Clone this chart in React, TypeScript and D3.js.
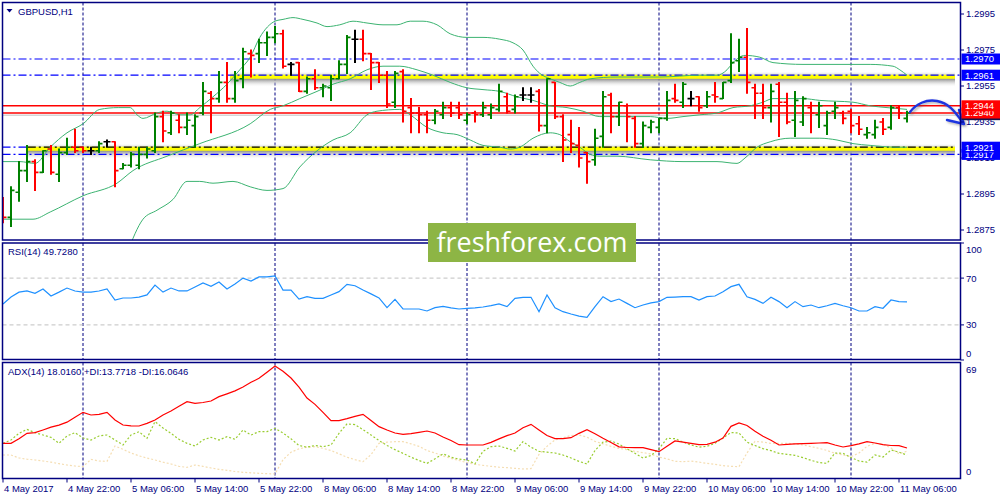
import React from "react";
import * as d3 from "d3";

// ---------- DATA (GBPUSD H1, 4 May 14:00 .. 11 May 07:00) ----------
const openP = [
  1.2892, 1.2882, 1.2896, 1.2908, 1.2913, 1.2907, 1.292, 1.2906, 1.2918, 1.2921,
  1.2921, 1.2919, 1.2919, 1.2924, 1.2924, 1.2909, 1.2911, 1.2911, 1.2917, 1.2919,
  1.2938, 1.2929, 1.2936, 1.2932, 1.2933, 1.294, 1.2951, 1.2948, 1.2957, 1.2948,
  1.2959, 1.2973, 1.2973, 1.2979, 1.2982, 1.2984, 1.2967, 1.2968, 1.2952, 1.2959,
  1.2954, 1.2954, 1.2959, 1.2967, 1.2981, 1.2981, 1.2973, 1.2968, 1.2961, 1.2946,
  1.2963, 1.2943, 1.294, 1.2939, 1.2936, 1.2939, 1.2943, 1.2943, 1.2936, 1.294,
  1.2939, 1.2939, 1.2942, 1.2949, 1.2942, 1.295, 1.295, 1.2952, 1.2933, 1.2957,
  1.2938, 1.2928, 1.2922, 1.2918, 1.2914, 1.2927, 1.295, 1.2938, 1.2944, 1.2937,
  1.2923, 1.2932, 1.2932, 1.2937, 1.2948, 1.2946, 1.2948, 1.2949, 1.2944, 1.295,
  1.2948, 1.2958, 1.2969, 1.2971, 1.2954, 1.2951, 1.2943, 1.2956, 1.2946, 1.2936,
  1.2935, 1.2943, 1.2939, 1.2933, 1.2941, 1.294, 1.2941, 1.2934, 1.2928, 1.2928,
  1.2935, 1.2932, 1.2943, 1.2937,
];
const highP = [
  1.2893, 1.2899, 1.2913, 1.2922, 1.2914, 1.2919, 1.2922, 1.292, 1.2926, 1.2931,
  1.2921, 1.2921, 1.2924, 1.2925, 1.2924, 1.2912, 1.2918, 1.2921, 1.2921, 1.294,
  1.2941, 1.2941, 1.2939, 1.294, 1.2939, 1.2957, 1.2952, 1.2963, 1.2968, 1.2963,
  1.2976, 1.2975, 1.2981, 1.2985, 1.2988, 1.2986, 1.2968, 1.2968, 1.296, 1.2964,
  1.2956, 1.2961, 1.2969, 1.2983, 1.2986, 1.2986, 1.2973, 1.2968, 1.2963, 1.2963,
  1.2964, 1.2948, 1.2943, 1.2941, 1.2942, 1.2946, 1.2946, 1.2946, 1.294, 1.2941,
  1.2946, 1.2945, 1.2956, 1.2951, 1.295, 1.2954, 1.2954, 1.2953, 1.2959, 1.2957,
  1.2939, 1.2936, 1.2932, 1.2918, 1.2931, 1.2952, 1.2951, 1.2946, 1.2945, 1.2938,
  1.2935, 1.2936, 1.2937, 1.2952, 1.2956, 1.2957, 1.2952, 1.2949, 1.2952, 1.2957,
  1.2957, 1.2984, 1.2981, 1.2987, 1.2956, 1.2956, 1.2956, 1.2957, 1.2951, 1.2952,
  1.2949, 1.2946, 1.2946, 1.2941, 1.2946, 1.2941, 1.2942, 1.2938, 1.2932, 1.2936,
  1.2937, 1.2944, 1.2944, 1.2941,
];
const lowP = [
  1.2879, 1.2877, 1.2891, 1.2902, 1.2897, 1.2907, 1.2906, 1.2902, 1.2917, 1.2918,
  1.2918, 1.2917, 1.2918, 1.2921, 1.2899, 1.2909, 1.291, 1.2909, 1.2915, 1.2918,
  1.2924, 1.2928, 1.2929, 1.2928, 1.2921, 1.2939, 1.2929, 1.2946, 1.2946, 1.2946,
  1.2954, 1.296, 1.2968, 1.2972, 1.2979, 1.2965, 1.2961, 1.2952, 1.2951, 1.2953,
  1.2949, 1.2947, 1.2959, 1.2962, 1.2968, 1.2969, 1.2953, 1.2957, 1.2943, 1.2943,
  1.2935, 1.2929, 1.2929, 1.2929, 1.2934, 1.2937, 1.2938, 1.2937, 1.2934, 1.2935,
  1.2938, 1.2937, 1.2941, 1.294, 1.294, 1.2947, 1.2946, 1.293, 1.2929, 1.2937,
  1.2913, 1.2918, 1.291, 1.2901, 1.2911, 1.2921, 1.2929, 1.2933, 1.2924, 1.2921,
  1.2921, 1.2929, 1.2929, 1.2936, 1.2946, 1.2943, 1.2944, 1.2941, 1.2943, 1.2946,
  1.2948, 1.2957, 1.2963, 1.2951, 1.2937, 1.2937, 1.2935, 1.2927, 1.2934, 1.2927,
  1.2933, 1.2929, 1.2932, 1.2928, 1.2937, 1.2934, 1.2929, 1.2928, 1.2926, 1.2926,
  1.2928, 1.2931, 1.2937, 1.2935,
];
const closeP = [
  1.2882, 1.2897, 1.2908, 1.2913, 1.2907, 1.2919, 1.2907, 1.2918, 1.2921, 1.2919,
  1.2919, 1.2919, 1.2923, 1.2924, 1.2908, 1.2911, 1.2917, 1.2917, 1.292, 1.2938,
  1.293, 1.294, 1.2932, 1.2936, 1.2938, 1.2952, 1.2948, 1.2957, 1.2948, 1.2958,
  1.2974, 1.2972, 1.2979, 1.2982, 1.2984, 1.2966, 1.2967, 1.2952, 1.2959, 1.2954,
  1.2955, 1.2959, 1.2967, 1.2982, 1.2981, 1.2973, 1.2968, 1.2961, 1.2945, 1.2962,
  1.2941, 1.294, 1.2939, 1.2936, 1.2941, 1.2943, 1.294, 1.2939, 1.2939, 1.2939,
  1.2943, 1.2943, 1.2952, 1.2941, 1.2949, 1.295, 1.295, 1.2933, 1.2959, 1.2938,
  1.2925, 1.2923, 1.2915, 1.2913, 1.2926, 1.2949, 1.2938, 1.2946, 1.2938, 1.2923,
  1.2933, 1.2935, 1.2937, 1.2947, 1.2947, 1.2956, 1.2948, 1.2943, 1.2949, 1.2949,
  1.2957, 1.2968, 1.2971, 1.2957, 1.2951, 1.2943, 1.2952, 1.2946, 1.2935, 1.2947,
  1.2948, 1.294, 1.2944, 1.294, 1.2943, 1.2937, 1.2933, 1.2931, 1.2929, 1.2932,
  1.2931, 1.2943, 1.294, 1.294,
];

// Bollinger Bands (20): [bar index, price]
const bbUpper: [number, number][] = [
  [0, 1.2913], [2.1, 1.2913], [4, 1.2912], [5.9, 1.2921], [8, 1.2929], [10, 1.2934], [12.1, 1.2942],
  [14.4, 1.2943], [15.9, 1.2943], [16.75, 1.2939], [17.5, 1.2937], [19.25, 1.294], [20.5, 1.2941],
  [22.1, 1.2939], [23.4, 1.2939], [24.6, 1.2943], [26.25, 1.2949], [28, 1.2956], [29.6, 1.2964],
  [30.9, 1.2971], [32.1, 1.2982], [34, 1.2991], [35, 1.2992], [36.25, 1.2993], [37.5, 1.2992],
  [39.25, 1.299], [40.5, 1.2988], [42.1, 1.2989], [43.75, 1.2991], [45.5, 1.299], [47.5, 1.2989],
  [49.25, 1.2989], [50.9, 1.2991], [52.5, 1.2991], [54.25, 1.2989], [55.9, 1.2984], [58, 1.2982],
  [60, 1.2982], [62.1, 1.2981], [63.75, 1.2979], [65, 1.2975], [66.25, 1.2966], [67.1, 1.2962],
  [68.4, 1.2959], [69.6, 1.2957], [70.9, 1.2955], [72.1, 1.2957], [73.4, 1.2959], [76.75, 1.296],
  [82.1, 1.296], [87.1, 1.2961], [89.25, 1.2961], [90.5, 1.2964], [91.25, 1.2968], [92.75, 1.2972],
  [94.6, 1.2971], [96.25, 1.2968], [100, 1.2967], [105.5, 1.2967], [108.4, 1.2967], [111.25, 1.2966],
  [112.1, 1.2964], [113, 1.2961],
];
const bbMiddle: [number, number][] = [
  [0, 1.2881], [3.75, 1.2881], [5.9, 1.2885], [10, 1.2894], [14.25, 1.2901], [16.25, 1.2908],
  [20.5, 1.2916], [24.6, 1.2923], [30.9, 1.2934], [33.4, 1.2942], [35, 1.2944], [37.1, 1.2948],
  [39.25, 1.2952], [41.25, 1.2956], [43.4, 1.2959], [45.5, 1.2964], [47.5, 1.2966], [49.6, 1.2966],
  [51.75, 1.2964], [53.75, 1.2961], [55.9, 1.2957], [58, 1.2954], [60, 1.2953], [62.1, 1.2952],
  [64.25, 1.2949], [66.25, 1.2947], [68.4, 1.2944], [70.5, 1.2943], [72.5, 1.2941], [74.6, 1.2938],
  [76.75, 1.2938], [80.9, 1.2938], [83, 1.2937], [85, 1.2938], [87.1, 1.2939], [89.25, 1.294],
  [91.25, 1.2943], [93.4, 1.2944], [95, 1.2946], [96.25, 1.2948], [100, 1.2948], [102.1, 1.2947],
  [106.25, 1.2946], [108.4, 1.2944], [110.5, 1.2943], [113, 1.2942],
];
const bbLower: [number, number][] = [
  [15.5, 1.2862], [17.5, 1.2881], [19.25, 1.2886], [21.25, 1.2892], [23, 1.2902], [24.6, 1.2902],
  [26.25, 1.2901], [28.75, 1.2902], [30.9, 1.2899], [33, 1.2897], [35, 1.2898], [37.1, 1.291],
  [39.25, 1.2919], [41.25, 1.2925], [43.4, 1.2929], [45.5, 1.2939], [46.75, 1.2941], [49.6, 1.2942],
  [50.9, 1.2939], [53, 1.2932], [55, 1.2929], [56.75, 1.2928], [58.4, 1.2925], [60, 1.2922],
  [62.1, 1.2921], [63.4, 1.292], [64.6, 1.2921], [66.25, 1.2926], [68.4, 1.2929], [69.6, 1.2928],
  [70.9, 1.2924], [72.1, 1.2921], [73.4, 1.2917], [74.6, 1.2916], [76.75, 1.2916], [80.9, 1.2914],
  [85, 1.2913], [89.25, 1.2913], [91.75, 1.2912], [92.75, 1.2915], [94.25, 1.2921], [95.9, 1.2924],
  [98.4, 1.2926], [102.1, 1.2926], [104.25, 1.2925], [106.25, 1.2923], [108.4, 1.2922],
  [111.75, 1.2921], [113, 1.2921],
];

const rsiVals = [
  47.9, 53.8, 58, 59, 57, 60.7, 54.7, 58, 61.5, 59,
  58, 58, 59, 60.7, 51.3, 53, 53, 53.8, 55.6, 64,
  58, 61.5, 59, 59, 62.4, 65.8, 63, 66.7, 60.7, 65,
  70, 67.5, 71, 71, 71.8, 59.8, 59.8, 52.1, 54.1, 52.7,
  52.7, 55.6, 58.4, 64.7, 63.5, 59.8, 56.5, 53, 44.7, 51.8,
  43.6, 43.6, 43.6, 41.9, 44.7, 45.9, 44.5, 43.6, 44.2, 44.5,
  45.3, 46.5, 47.9, 45.6, 52.7, 53.6, 53.6, 41.3, 55.6, 44.7,
  41.3, 39.3, 37.5, 36.5, 45.6, 54.1, 49.9, 52.1, 48.4, 44.7,
  47, 48.8, 49.9, 53.6, 53.8, 54.1, 54.1, 51.3, 54.1, 54.7,
  58.4, 62.7, 64.7, 54.1, 51.8, 48.4, 53.6, 49.9, 44.7, 49.9,
  45.6, 47, 44.7, 46.4, 48.4, 46.4, 44.7, 41.9, 41.9, 45.6,
  44.2, 51.3, 49.9, 49.728,
];
const adxVals = [
  20.8, 20.8, 23.5, 26.8, 27.2, 28.8, 30.5, 31.7, 33.5, 36.5,
  39.4, 37.8, 38.2, 39.4, 34.8, 31.8, 31.3, 31.2, 32.8, 34.8,
  37.8, 40.2, 43, 45.8, 44.8, 45.3, 46.2, 48.8, 50.5, 52.3,
  54.6, 57.4, 59.8, 63.5, 67.2, 64, 60, 54.5, 48, 44.2,
  39.4, 34.4, 34.4, 35.6, 37, 38.2, 34.5, 30.8, 28.8, 27,
  26.2, 26.6, 27.4, 28.2, 27, 24.6, 22.5, 20, 19.8, 19.8,
  19.8, 21.4, 23.5, 25.4, 27, 30.2, 32.2, 28.8, 25.5, 23.6,
  23.6, 24.2, 26.8, 29, 26.5, 23.8, 21.3, 18.7, 18.3, 18.2,
  18.2, 17, 15.8, 19, 22.2, 21.5, 20.8, 20, 20.2, 21.5,
  24, 31, 33, 31.5, 28, 25, 22.6, 19.8, 20.2, 20.5,
  20.6, 20.8, 21, 21.2, 19.8, 18.6, 19.4, 20.5, 21.8, 21,
  20, 19.5, 19.4, 18.016,
];
const plusDI = [
  20.8, 22.8, 26.8, 29.2, 27.2, 25.8, 24.4, 20.8, 25.2, 27.2,
  24, 22.8, 25.2, 25.8, 22.8, 19.8, 25.8, 27.8, 23.8, 33.8,
  30, 26.8, 23.2, 20.8, 19.2, 22.8, 24.4, 22.8, 24.8, 23.2,
  28.8, 25.8, 27.8, 27.8, 29.8, 27, 23.5, 19.5, 18.5, 19.5,
  18.8, 19.8, 26.8, 32.5, 32, 29, 25.8, 22.5, 19.5, 17,
  14.8, 12.5, 10.5, 8.8, 11.5, 14.5, 12.5, 11.3, 10.8, 8.5,
  16, 18.8, 19.2, 17.8, 16.2, 21.8, 18.5, 16, 15.5, 15,
  13.8, 12, 10, 8.4, 16.5, 21.5, 22.2, 20.4, 17.5, 14.8,
  12, 13.5, 17.5, 23.8, 23.6, 21.6, 19.8, 18.5, 19, 20.8,
  24, 27.3, 27, 21.5, 19.5, 17.6, 16.4, 14.8, 14.2, 13.6,
  12.2, 10.6, 9.3, 8.8, 15, 14.8, 12.3, 10.2, 9.5, 13.8,
  12.6, 16.8, 15.5, 13.7718,
];
const minusDI = [
  13.8, 13.8, 12, 11.3, 10.8, 10.2, 9.5, 8.6, 7.8, 7.2,
  6.8, 11.2, 10.2, 10, 19.2, 17.2, 15, 13.3, 12, 10.8,
  9.5, 8.4, 7, 6.4, 7.8, 7, 6, 5.2, 4.6, 3.9,
  3.4, 3.1, 2.8, 2.6, 2.4, 11, 15.5, 17.5, 18.5, 18.8,
  17.8, 16.5, 14.5, 12.5, 11, 9.8, 14, 20.8, 21.5, 21.8,
  21.8, 20.5, 19, 16.5, 15, 13.2, 11.8, 10.5, 9.2, 8.2,
  7.6, 7, 6.5, 6.2, 5.8, 5.4, 5.6, 14.2, 19, 22.8,
  24.2, 25.5, 25.8, 24.5, 22, 20.5, 19, 17.8, 17, 16,
  15.2, 14.4, 12.5, 11.5, 10, 9.8, 10.1, 9.5, 8.8, 8.2,
  7.4, 7, 6.8, 15, 22, 21.5, 20.8, 20.8, 20.8, 20.5,
  19.8, 18.8, 17.8, 16.5, 14.8, 13.8, 12.8, 15, 19, 20.8,
  20.2, 18, 14.5, 16.0646,
];

const xTickIdx = [0, 8, 16, 24, 32, 40, 48, 56, 64, 72, 80, 88, 96, 104, 112];
const xTickLabels = [
  "4 May 2017", "4 May 22:00", "5 May 06:00", "5 May 14:00", "5 May 22:00", "8 May 06:00",
  "8 May 14:00", "8 May 22:00", "9 May 06:00", "9 May 14:00", "9 May 22:00", "10 May 06:00",
  "10 May 14:00", "10 May 22:00", "11 May 06:00",
];
const daySeparatorIdx = [10, 34, 58, 82, 106];
const priceTicks = [1.2995, 1.2975, 1.2955, 1.2935, 1.2915, 1.2895, 1.2875];
const rsiTicks = [100, 70, 30, 0];
const rsiLevels = [70, 30];
const adxTicks = [69, 0];

// horizontal levels
const blueLevels = [1.297, 1.2961, 1.2917];
const redLevels = [1.2944, 1.294];
const bidPrice = 1.29388;
const supportZones = [
  { price: 1.2961, from: 28.4, to: 119 },
  { price: 1.2921, from: 3.1, to: 119 },
];
const blackTrendPrice = 1.2921;
const labelBoxes = [
  { text: "1.2917", price: 1.2917, color: "#0000ff" },
  { text: "1.2921", price: 1.2921, color: "#0000ff" },
  { text: "1.2940", price: 1.294, color: "#ff0000" },
  { text: "1.2944", price: 1.2944, color: "#ff0000" },
  { text: "1.2970", price: 1.297, color: "#0000ff" },
  { text: "1.2961", price: 1.2961, color: "#0000ff" },
];

const NAVY = "#000080";
const FONT = "'Liberation Sans', Arial, sans-serif";

export default function App() {
  const N = closeP.length;
  const x = d3.scaleLinear().domain([0, N - 1]).range([3, 907]);
  const yP = d3.scaleLinear().domain([1.2875, 1.2995]).range([230, 14]);
  const yR = d3.scaleLinear().domain([0, 100]).range([360, 243]);
  const yA = d3.scaleLinear().domain([0, 69]).range([478, 363]);

  const band = d3
    .line<[number, number]>()
    .x((d) => x(d[0]))
    .y((d) => yP(d[1]))
    .curve(d3.curveMonotoneX);
  const rsiLine = d3.line<number>().x((_, i) => x(i)).y((d) => yR(d));
  const adxLine = d3.line<number>().x((_, i) => x(i)).y((d) => yA(d));

  const mainL = 2.5, mainR = 960.5, mainT = 2.5, mainB = 240;
  const rsiT = 243, rsiB = 359.5;
  const adxT = 362.5, adxB = 478.5;

  const bars = closeP.map((c, i) => {
    const o = openP[i];
    const col = c > o ? "#008000" : c < o ? "#ff0000" : "#000000";
    const xi = x(i);
    return (
      <g key={i} stroke={col}>
        <line x1={xi} x2={xi} y1={yP(highP[i]) - 0.5} y2={yP(lowP[i]) + 0.5} strokeWidth={2} />
        <line x1={xi - 3.5} x2={xi} y1={yP(o)} y2={yP(o)} strokeWidth={1.6} />
        <line x1={xi} x2={xi + 3.5} y1={yP(c)} y2={yP(c)} strokeWidth={1.6} />
      </g>
    );
  });

  return (
    <svg
      width={1000}
      height={500}
      style={{ position: "absolute", left: 0, top: 0, background: "#ffffff" }}
      fontFamily={FONT}
    >
      <defs>
        <clipPath id="mainClip">
          <rect x={mainL} y={mainT} width={mainR - mainL} height={mainB - mainT} />
        </clipPath>
        <clipPath id="rsiClip">
          <rect x={mainL} y={rsiT} width={mainR - mainL} height={rsiB - rsiT} />
        </clipPath>
        <clipPath id="adxClip">
          <rect x={mainL} y={adxT} width={mainR - mainL} height={adxB - adxT} />
        </clipPath>
        <linearGradient id="zoneShadow" x1="0" y1="0" x2="0" y2="1">
          <stop offset="0" stopColor="#ffffff" stopOpacity="0" />
          <stop offset="0.3" stopColor="#a8a8a8" stopOpacity="0.8" />
          <stop offset="0.5" stopColor="#8a8a8a" stopOpacity="0.9" />
          <stop offset="1" stopColor="#ffffff" stopOpacity="0" />
        </linearGradient>
        <filter id="arrowShadow" x="-20%" y="-20%" width="140%" height="140%">
          <feDropShadow dx="1.5" dy="1.5" stdDeviation="1.2" floodColor="#555" floodOpacity="0.5" />
        </filter>
      </defs>

      {/* ================= MAIN PANEL ================= */}
      <g clipPath="url(#mainClip)">
        {/* day separators */}
        {daySeparatorIdx.map((d) => (
          <line key={d} x1={x(d)} x2={x(d)} y1={mainT} y2={mainB} stroke={NAVY} strokeDasharray="3,2" strokeWidth={1} />
        ))}

        {/* support/resistance zones */}
        {supportZones.map((z, k) => (
          <g key={k}>
            <rect x={x(z.from)} width={x(z.to) - x(z.from)} y={yP(z.price) - 4} height={16} fill="url(#zoneShadow)" />
            <line x1={x(z.from)} x2={x(z.to)} y1={yP(z.price) + 1.5} y2={yP(z.price) + 1.5} stroke="#ffff00" strokeWidth={4} />
          </g>
        ))}

        {/* blue dash-dot levels */}
        {blueLevels.map((p) => (
          <line key={p} x1={mainL} x2={mainR} y1={yP(p)} y2={yP(p)} stroke="#0000ff" strokeWidth={1.2} strokeDasharray="8,3,2,3" />
        ))}
        <line x1={mainL} x2={x(3.1)} y1={yP(blackTrendPrice)} y2={yP(blackTrendPrice)} stroke="#0000ff" strokeWidth={1.2} strokeDasharray="8,3,2,3" />
        <line x1={x(3.1)} x2={x(119)} y1={yP(blackTrendPrice)} y2={yP(blackTrendPrice)} stroke="#000000" strokeWidth={1.2} strokeDasharray="8,3,2,3" />

        {/* red levels + bid */}
        {redLevels.map((p) => (
          <line key={p} x1={mainL} x2={mainR} y1={yP(p)} y2={yP(p)} stroke="#ff0000" strokeWidth={1.4} />
        ))}
        <line x1={mainL} x2={mainR} y1={yP(bidPrice)} y2={yP(bidPrice)} stroke="#c0c0c0" strokeWidth={1} />

        {/* Bollinger bands */}
        {[bbUpper, bbMiddle, bbLower].map((b, k) => (
          <path key={k} d={band(b) || ""} fill="none" stroke="#3cb371" strokeWidth={1} />
        ))}

        {/* OHLC bars */}
        {bars}
      </g>

      {/* title */}
      <path d="M 6.5 9 L 12.5 9 L 9.5 12.5 Z" fill={NAVY} />
      <text x={18} y={14.5} fontSize={9.5} fill={NAVY}>GBPUSD,H1</text>

      {/* hand-drawn forecast arrow */}
      <g filter="url(#arrowShadow)" fill="none" stroke="#1d35e0" strokeWidth={2.4} strokeLinecap="round" strokeLinejoin="round">
        <path d="M 910 112 C 916 104, 926 99, 937 101 C 948 103, 954 110, 963 123" />
        <path d="M 947 120 L 964 124 L 959 110" />
      </g>

      {/* ================= RSI PANEL ================= */}
      <g clipPath="url(#rsiClip)">
        {daySeparatorIdx.map((d) => (
          <line key={d} x1={x(d)} x2={x(d)} y1={rsiT} y2={rsiB} stroke={NAVY} strokeDasharray="3,2" strokeWidth={1} />
        ))}
        {rsiLevels.map((l) => (
          <line key={l} x1={mainL} x2={mainR} y1={yR(l)} y2={yR(l)} stroke="#c0c0c0" strokeDasharray="4,3" strokeWidth={1} />
        ))}
        <path d={rsiLine(rsiVals) || ""} fill="none" stroke="#1e90ff" strokeWidth={1.2} />
      </g>
      <text x={8} y={255} fontSize={9.5} fill={NAVY}>RSI(14) 49.7280</text>

      {/* ================= ADX PANEL ================= */}
      <g clipPath="url(#adxClip)">
        {daySeparatorIdx.map((d) => (
          <line key={d} x1={x(d)} x2={x(d)} y1={adxT} y2={adxB} stroke={NAVY} strokeDasharray="3,2" strokeWidth={1} />
        ))}
        <path d={adxLine(minusDI) || ""} fill="none" stroke="#f5deb3" strokeWidth={1.2} strokeDasharray="2,2" />
        <path d={adxLine(plusDI) || ""} fill="none" stroke="#9acd32" strokeWidth={1.2} strokeDasharray="2,2" />
        <path d={adxLine(adxVals) || ""} fill="none" stroke="#ff0000" strokeWidth={1.2} />
      </g>
      <text x={8} y={375} fontSize={9.5} fill={NAVY}>ADX(14) 18.0160 +DI:13.7718 -DI:16.0646</text>

      {/* panel frames */}
      <g fill="none" stroke={NAVY} strokeWidth={1.5}>
        <rect x={mainL} y={mainT} width={mainR - mainL} height={mainB - mainT} />
        <rect x={mainL} y={rsiT} width={mainR - mainL} height={rsiB - rsiT} />
        <rect x={mainL} y={adxT} width={mainR - mainL} height={adxB - adxT} />
      </g>

      {/* price axis */}
      {priceTicks.map((p) => (
        <g key={p}>
          <line x1={mainR} x2={mainR + 3.5} y1={yP(p)} y2={yP(p)} stroke={NAVY} strokeWidth={1} />
          <text x={966} y={yP(p) + 3.4} fontSize={9.5} fill={NAVY}>{p.toFixed(4)}</text>
        </g>
      ))}
      <rect x={961.5} y={yP(bidPrice) + 1} width={38.5} height={4} fill="#14144a" />
      {labelBoxes.map((b) => (
        <g key={b.text}>
          <rect x={961.5} y={yP(b.price) - 5.5} width={38.5} height={11} fill={b.color} />
          <text x={965} y={yP(b.price) + 3.4} fontSize={9.5} fill="#ffffff">{b.text}</text>
        </g>
      ))}

      {/* RSI axis */}
      {rsiTicks.map((t) => {
        const yy = yR(t);
        const ty = t === 100 ? yy + 10 : t === 0 ? yy - 3 : yy + 3.4;
        return (
          <g key={t}>
            <line x1={mainR} x2={mainR + 3.5} y1={yy} y2={yy} stroke={NAVY} strokeWidth={1} />
            <text x={966} y={ty} fontSize={9.5} fill={NAVY}>{t}</text>
          </g>
        );
      })}

      {/* ADX axis */}
      {adxTicks.map((t) => {
        const yy = yA(t);
        const ty = t === 69 ? yy + 10 : yy - 3;
        return (
          <text key={t} x={966} y={ty} fontSize={9.5} fill={NAVY}>{t}</text>
        );
      })}

      {/* time axis */}
      {xTickIdx.map((idx, k) => (
        <g key={idx}>
          <line x1={x(idx)} x2={x(idx)} y1={adxB} y2={adxB + 4} stroke={NAVY} strokeWidth={1} />
          <text x={x(idx) + 1} y={492} fontSize={9.5} fill={NAVY}>{xTickLabels[k]}</text>
        </g>
      ))}

      {/* watermark */}
      <rect x={428} y={223} width={208} height={39} fill="#8db545" />
      <text x={532} y={252} fontSize={27} fill="#ffffff" textAnchor="middle" fontFamily="'Open Sans', sans-serif" textLength={191} lengthAdjust="spacingAndGlyphs">
        freshforex.com
      </text>
    </svg>
  );
}
